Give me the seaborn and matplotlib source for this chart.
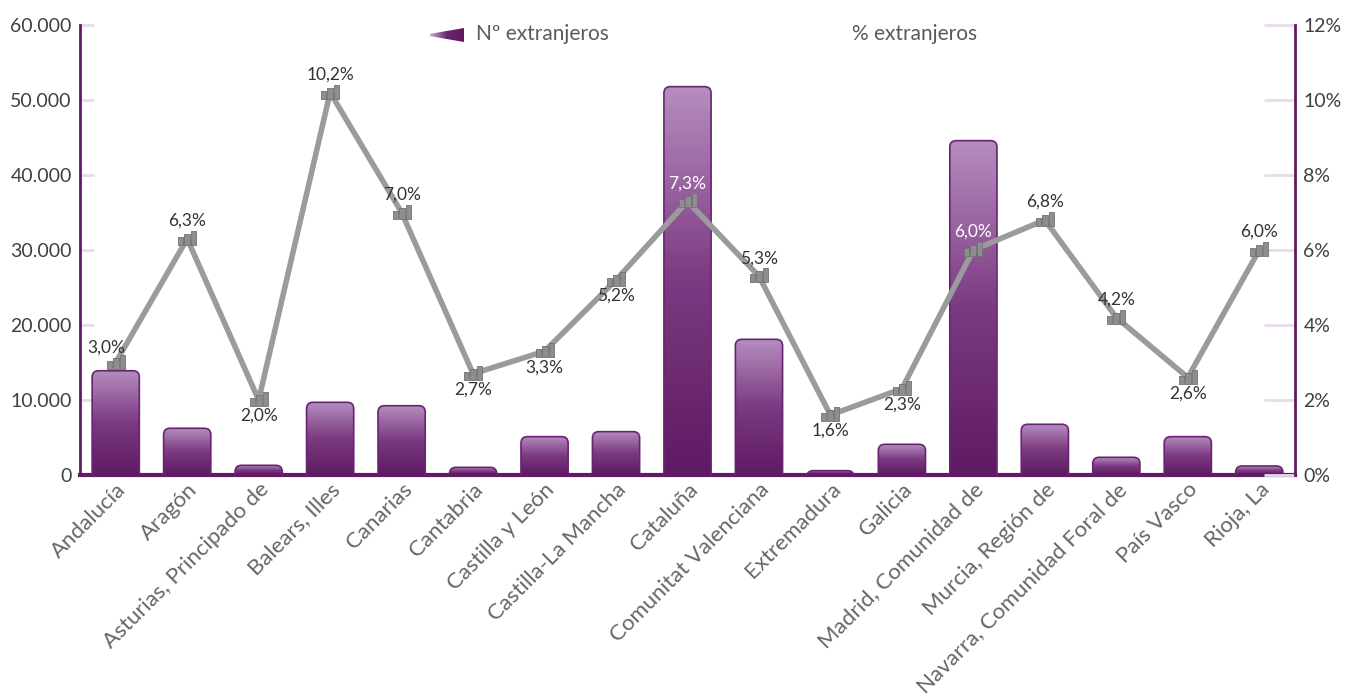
import numpy as np
import pandas as pd
import seaborn as sns
import matplotlib.pyplot as plt
from matplotlib.patches import FancyBboxPatch, Polygon
from matplotlib.path import Path
from matplotlib.colors import LinearSegmentedColormap
from matplotlib.ticker import FuncFormatter, MultipleLocator

# Datos
comunidades = ['Andalucía', 'Aragón', 'Asturias, Principado de', 'Balears, Illes',
               'Canarias', 'Cantabria', 'Castilla y León', 'Castilla-La Mancha',
               'Cataluña', 'Comunitat Valenciana', 'Extremadura', 'Galicia',
               'Madrid, Comunidad de', 'Murcia, Región de',
               'Navarra, Comunidad Foral de', 'País Vasco', 'Rioja, La']
n_extranjeros = [13900, 6230, 1290, 9690, 9240, 1020, 5110, 5780, 51780,
                 18090, 580, 4090, 44580, 6760, 2360, 5110, 1200]
pct_extranjeros = [3.0, 6.3, 2.0, 10.2, 7.0, 2.7, 3.3, 5.2, 7.3, 5.3,
                   1.6, 2.3, 6.0, 6.8, 4.2, 2.6, 6.0]

df = pd.DataFrame({'comunidad': comunidades, 'n': n_extranjeros,
                   'pct': pct_extranjeros})

sns.set_style('white')
plt.rcParams['font.family'] = ['Lato', 'DejaVu Sans']

morado = '#5f1b64'
gris_txt = '#404040'
cmap = LinearSegmentedColormap.from_list('morado', ['#5e1a62', '#7b3a81', '#b68dbf'])

fig = plt.figure(figsize=(13.68, 6.98), dpi=100)
ax = fig.add_axes([80 / 1368, 223 / 698, 1215 / 1368, 450 / 698])

sns.barplot(data=df, x='comunidad', y='n', ax=ax, width=0.66, color=morado)

# barras con degradado y esquinas redondeadas
grad = np.linspace(0, 1, 256).reshape(-1, 1)
asp = (60000 / 450) / (17 / 1215)
for bar in list(ax.patches):
    x0, w, h = bar.get_x(), bar.get_width(), bar.get_height()
    bar.set_visible(False)
    caja = FancyBboxPatch((x0, -3000), w, h + 3000,
                          boxstyle='round,pad=0,rounding_size=0.09',
                          mutation_aspect=asp, facecolor='none',
                          edgecolor='#6a2373', lw=1.2, zorder=3)
    ax.add_patch(caja)
    im = ax.imshow(grad, extent=(x0, x0 + w, 0, h), origin='lower', cmap=cmap,
                   aspect='auto', zorder=2)
    im.set_clip_path(caja)

ax.set_xlim(-0.5, len(comunidades) - 0.5)
ax.set_ylim(0, 60000)
ax.yaxis.set_major_locator(MultipleLocator(10000))
ax.yaxis.set_major_formatter(FuncFormatter(lambda v, p: f'{int(v):,}'.replace(',', '.')))
ax.set_xlabel('')
ax.set_ylabel('')
ax.tick_params(axis='y', direction='in', length=10, width=2, color='#eadaee',
               labelsize=14, labelcolor=gris_txt, pad=6)
ax.tick_params(axis='x', length=0, pad=3)
for t in ax.get_xticklabels():
    t.set_rotation(45)
    t.set_ha('right')
    t.set_va('top')
    t.set_rotation_mode('anchor')
    t.set_fontsize(16)
    t.set_color('#666666')

for lado in ['left', 'bottom']:
    ax.spines[lado].set_color(morado)
ax.spines['left'].set_linewidth(2)
ax.spines['bottom'].set_linewidth(3)
ax.spines['top'].set_visible(False)
ax.spines['right'].set_visible(False)

# icono de marcador (tres barritas)
def rect(x0, x1, y0, y1):
    return [(x0, y0), (x1, y0), (x1, y1), (x0, y1), (x0, y0)]

verts, codes = [], []
for r in [rect(-0.5, -0.2, -0.35, 0.1), rect(-0.15, 0.15, -0.35, 0.28), rect(0.2, 0.5, -0.35, 0.45)]:
    verts += r
    codes += [Path.MOVETO, Path.LINETO, Path.LINETO, Path.LINETO, Path.CLOSEPOLY]
icono = Path(verts, codes)

ax2 = ax.twinx()
sns.lineplot(x=np.arange(len(comunidades)), y=pct_extranjeros, ax=ax2,
             color='#9b9b9d', lw=4, marker=icono, markersize=13,
             markerfacecolor='#8e8e90', markeredgecolor='#727274',
             markeredgewidth=0.6, zorder=4)
ax2.set_ylim(0, 12)
ax2.set_xlim(-0.5, len(comunidades) - 0.5)
ax2.yaxis.set_major_locator(MultipleLocator(2))
ax2.yaxis.set_major_formatter(FuncFormatter(lambda v, p: f'{int(v)}%'))
ax2.tick_params(axis='y', direction='in', length=22, width=2, color='#eadaee',
                labelsize=14, labelcolor=gris_txt, pad=6)
ax2.set_ylabel('')
for lado in ['left', 'top', 'bottom']:
    ax2.spines[lado].set_visible(False)
ax2.spines['right'].set_color(morado)
ax2.spines['right'].set_linewidth(2)

# etiquetas de porcentaje
posicion = ['izq', 'arr', 'abj', 'arr', 'arr', 'abj', 'abj', 'abj', 'arr',
            'arr', 'abj', 'abj', 'arr', 'arr', 'arr', 'abj', 'arr']
blancas = {'Cataluña', 'Madrid, Comunidad de'}
for i, (c, v) in enumerate(zip(comunidades, pct_extranjeros)):
    if posicion[i] == 'arr':
        off = (0, 18)
    elif posicion[i] == 'abj':
        off = (0, -16)
    else:
        off = (-9, 15)
    ax2.annotate(f'{v:.1f}%'.replace('.', ','), (i, v), xytext=off,
                 textcoords='offset pixels',
                 ha='center', va='center', fontsize=12.5,
                 color='white' if c in blancas else '#333333', zorder=5)

# leyenda
lax = fig.add_axes([430 / 1368, 1 - 42 / 698, 34 / 1368, 14 / 698])
lax.axis('off')
cmap_h = LinearSegmentedColormap.from_list('leg', ['#c9a9cf', '#6a2470', '#5e1a62'])
im = lax.imshow(np.linspace(0, 1, 100).reshape(1, -1), cmap=cmap_h,
                aspect='auto', extent=(0, 1, 0, 1))
cuña = Polygon([(0, 0.42), (1, 0.0), (1, 1.0), (0, 0.58)], transform=lax.transAxes)
im.set_clip_path(cuña)
fig.text(476 / 1368, 1 - 34 / 698, 'Nº extranjeros', va='center', ha='left',
         fontsize=15, color='#5a5a5a')
fig.text(852 / 1368, 1 - 34 / 698, '% extranjeros', va='center', ha='left',
         fontsize=15, color='#5a5a5a')

plt.savefig('out.png', dpi=100)
